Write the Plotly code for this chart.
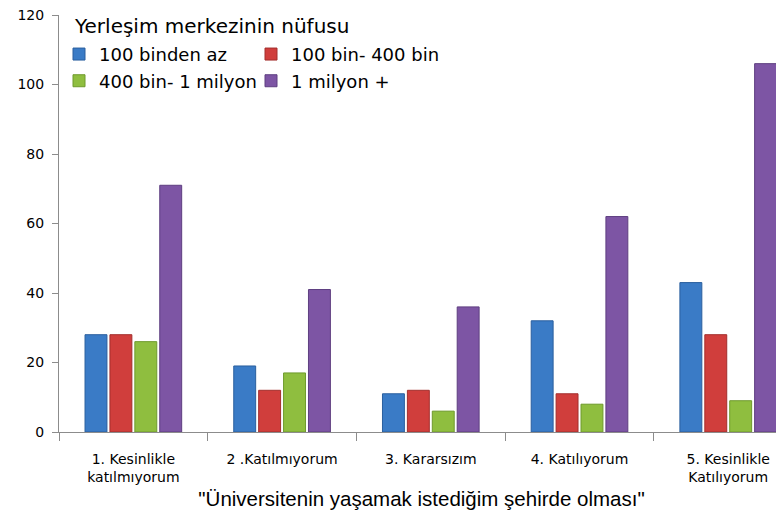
import plotly.graph_objects as go

categories = ["1. Kesinlikle<br>katılmıyorum", "2 .Katılmıyorum", "3. Kararsızım",
              "4. Katılıyorum", "5. Kesinlikle<br>Katılıyorum"]
series_names = ["100 binden az", "100 bin- 400 bin", "400 bin- 1 milyon", "1 milyon +"]
az_100 = [28, 19, 11, 32, 43]
bin_100_400 = [28, 12, 12, 11, 28]
bin_400_milyon = [26, 17, 6, 8, 9]
milyon_plus = [71, 41, 36, 62, 106]

colors = ["#3A7BC6", "#D03E3C", "#8FBE3F", "#7D55A4"]
edges = ["#2A5F9E", "#A32E2C", "#6E9A2C", "#5E3E80"]
legends = ["legend", "legend", "legend2", "legend2"]

fig = go.Figure()
for name, vals, c, e, lg in zip(series_names, [az_100, bin_100_400, bin_400_milyon, milyon_plus],
                                colors, edges, legends):
    fig.add_trace(go.Bar(x=categories, y=vals, name=name, legend=lg,
                         marker=dict(color=c, line=dict(color=e, width=1))))

# page body has an 8px margin, so the figure is sized to fit the 784x513 window
legend_font = dict(family="DejaVu Sans, Verdana, sans-serif", size=18, color="#000000")
fig.update_layout(
    width=776, height=505,
    margin=dict(l=51, r=0, t=7, b=81),
    plot_bgcolor="white", paper_bgcolor="white",
    barmode="group", bargap=0.33, bargroupgap=0.12,
    showlegend=True,
    legend=dict(orientation="h", x=0, y=0.95, xanchor="left", yanchor="top",
                font=legend_font, entrywidth=147, bgcolor="rgba(0,0,0,0)"),
    legend2=dict(orientation="h", x=0, y=0.886, xanchor="left", yanchor="top",
                 font=legend_font, entrywidth=147, bgcolor="rgba(0,0,0,0)"),
    annotations=[dict(text="Yerleşim merkezinin nüfusu", xref="paper", yref="paper",
                      x=0.0184, y=1.007, xanchor="left", yanchor="top", showarrow=False,
                      font=dict(family="DejaVu Sans, Verdana, sans-serif", size=20, color="#000000"))],
    xaxis=dict(range=[-0.5, 4.375], showline=True, linecolor="#8C8C8C", linewidth=1,
               ticks="outside", tickson="boundaries", ticklen=8, tickcolor="#8C8C8C",
               automargin=False, ticklabelstandoff=14, tickangle=0,
               tickfont=dict(family="DejaVu Sans, Verdana, sans-serif", size=14, color="#000000"),
               title=dict(text="\"Üniversitenin yaşamak istediğim şehirde olması\"", standoff=7,
                          font=dict(family="Liberation Sans, Arial, sans-serif", size=20.5, color="#000000")),
               showgrid=False, zeroline=False),
    yaxis=dict(range=[0, 120], dtick=20, showline=True, linecolor="#8C8C8C", linewidth=1,
               ticks="outside", ticklen=6, tickcolor="#8C8C8C", showgrid=False, zeroline=False,
               automargin=False, ticklabelstandoff=5, ticklabeloverflow="allow",
               tickfont=dict(family="DejaVu Sans, Verdana, sans-serif", size=14, color="#000000")),
)

fig.write_html("out.html")
